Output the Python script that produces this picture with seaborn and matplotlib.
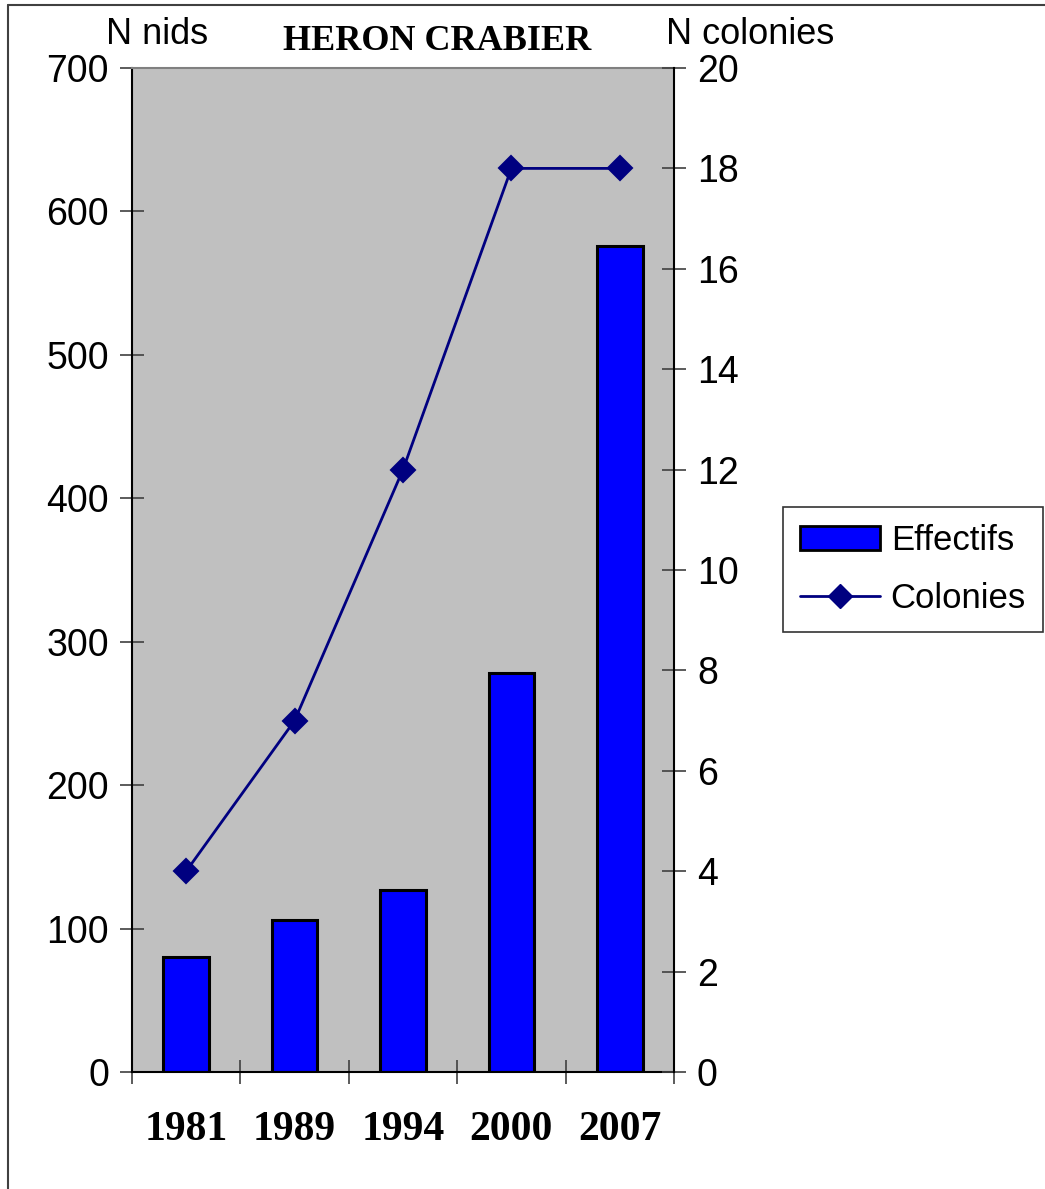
import numpy as np
import matplotlib
matplotlib.use("Agg")
import matplotlib.pyplot as plt
import seaborn as sns
from matplotlib.patches import Patch
from matplotlib.lines import Line2D
from matplotlib.ticker import FixedLocator

annees = ["1981", "1989", "1994", "2000", "2007"]
effectifs = [80, 106, 127, 278, 576]
colonies = [4, 7, 12, 18, 18]

sns.set_style("white")
plt.rcParams['font.family'] = ['Liberation Sans', 'DejaVu Sans']
plt.rcParams['text.color'] = 'black'
plt.rcParams['xtick.color'] = 'black'
plt.rcParams['ytick.color'] = 'black'

BLEU = "#0000FF"
MARINE = "#000080"
GRIS = "#C0C0C0"

fig = plt.figure(figsize=(10.45, 11.89), dpi=100)
ax = fig.add_axes([132/1045, 1 - 1072/1189, (674 - 132)/1045, (1072 - 68)/1189])
ax.set_facecolor(GRIS)

sns.barplot(x=annees, y=effectifs, ax=ax, color=BLEU, saturation=1,
            width=0.42, edgecolor="black", linewidth=2.2, zorder=2)

ax2 = ax.twinx()
sns.pointplot(x=annees, y=colonies, ax=ax2, color=MARINE, markers="D",
              linestyles="-", errorbar=None, markersize=12, linewidth=2)

ax.set_xlim(-0.5, 4.5)
ax.set_ylim(0, 700)
ax2.set_ylim(0, 20)
ax.set_yticks(range(0, 701, 100))
ax2.set_yticks(range(0, 21, 2))

# ticks en x aux limites des catégories, étiquettes au centre
ax.xaxis.set_major_locator(FixedLocator(np.arange(-0.5, 5, 1)))
ax.xaxis.set_minor_locator(FixedLocator(np.arange(0, 5, 1)))
ax.set_xticklabels([])
ax.set_xticklabels(annees, minor=True)
ax.tick_params(axis="x", which="major", direction="inout", length=17, width=1.2,
               color="#404040", bottom=True)
ax.tick_params(axis="x", which="minor", length=0, pad=28)
for lab in ax.get_xticklabels(minor=True):
    lab.set_family("Liberation Serif")
    lab.set_fontweight("bold")
    lab.set_fontsize(30)
    lab.set_color("black")

ax.tick_params(axis="y", direction="inout", length=17, width=1.2, color="#404040",
               labelsize=27, labelcolor="black", pad=8, left=True)
ax2.tick_params(axis="y", direction="inout", length=17, width=1.2, color="#404040",
                labelsize=27, labelcolor="black", pad=8, right=True)
ax2.set_xlabel("")
ax.set_xlabel("")
ax.set_ylabel("")
ax2.set_ylabel("")

for a in (ax, ax2):
    for s in a.spines.values():
        s.set_visible(False)
ax.spines["left"].set_visible(True)
ax.spines["left"].set_color("black")
ax.spines["left"].set_linewidth(1.5)
ax.spines["bottom"].set_visible(True)
ax.spines["bottom"].set_color("black")
ax.spines["bottom"].set_linewidth(1.5)
ax2.spines["right"].set_visible(True)
ax2.spines["right"].set_color("black")
ax2.spines["right"].set_linewidth(1.5)
ax.spines["top"].set_visible(True)
ax.spines["top"].set_color("#808080")
ax.spines["top"].set_linewidth(1.5)

fig.text(157/1045, 1 - 34/1189, "N nids", fontsize=26, ha="center", va="center")
fig.text(750/1045, 1 - 34/1189, "N colonies", fontsize=26, ha="center", va="center")
fig.text(437/1045, 1 - 41/1189, "HERON CRABIER", fontsize=26, ha="center",
         va="center", family="Liberation Serif", fontweight="bold")

poignees = [
    Patch(facecolor=BLEU, edgecolor="black", linewidth=2),
    Line2D([0], [0], color=MARINE, linewidth=2, marker="D", markersize=12),
]
leg = fig.legend(poignees, ["Effectifs", "Colonies"], loc="upper left",
                 bbox_to_anchor=(783/1045, 1 - 507/1189), fontsize=25,
                 frameon=True, fancybox=False, edgecolor="black",
                 handlelength=2.3, handleheight=0.7, borderpad=0.5,
                 labelspacing=0.7, handletextpad=0.3, borderaxespad=0)
leg.get_frame().set_linewidth(1.2)

# cadre de la figure (haut et gauche)
fig.add_artist(Line2D([8/1045, 8/1045], [0, 1 - 5/1189], transform=fig.transFigure,
                      color="#404040", linewidth=1.5))
fig.add_artist(Line2D([8/1045, 1], [1 - 5/1189, 1 - 5/1189], transform=fig.transFigure,
                      color="#404040", linewidth=1.5))

fig.savefig("out.png", dpi=100)
